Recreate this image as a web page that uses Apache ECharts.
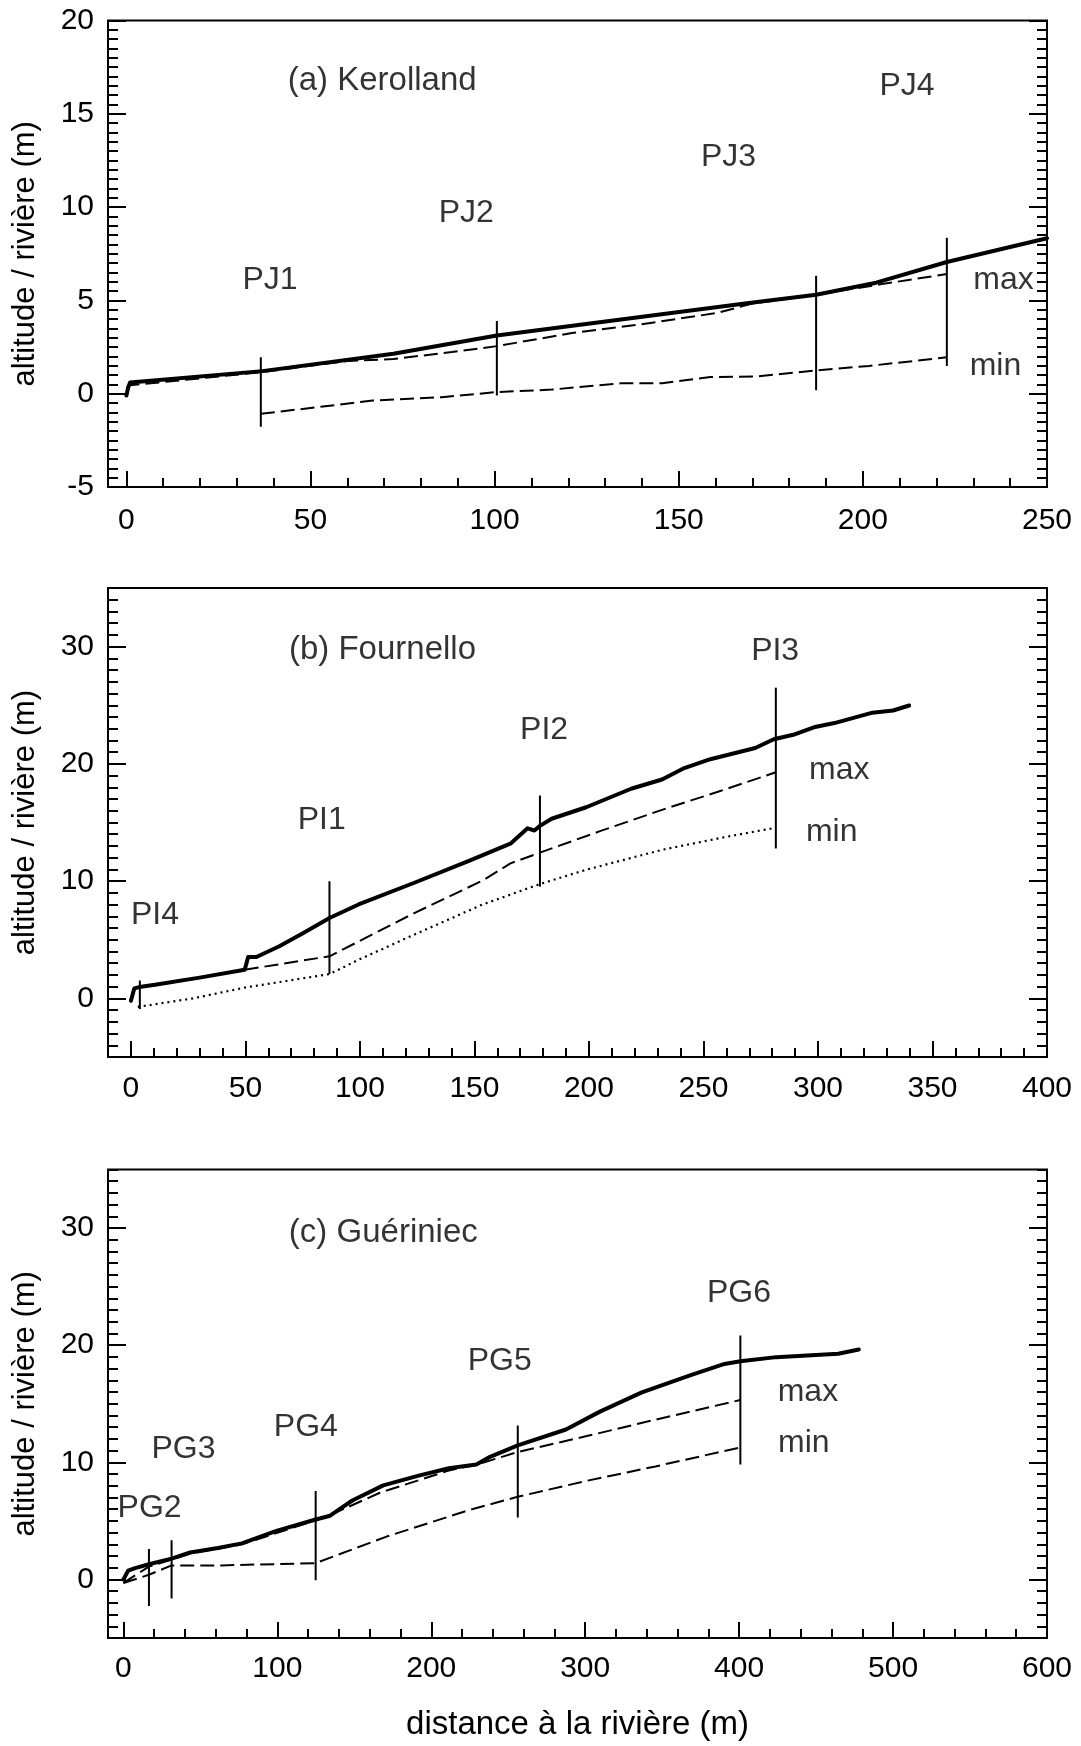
<!DOCTYPE html>
<html><head><meta charset="utf-8">
<script src="https://cdn.jsdelivr.net/npm/echarts@6/dist/echarts.min.js"></script>
<style>html,body{margin:0;padding:0;background:#fff;} #c{width:1081px;height:1746px;}</style>
</head><body><div id="c"></div>
<script>
// ---------- Panel (a) Kerolland ----------
const surfA_x = [0, 0.5, 1, 36.9, 72.5, 100.6, 168, 187.3, 203.6, 222.8, 250];
const surfA_y = [-0.1, 0.35, 0.6, 1.21, 2.14, 3.12, 4.83, 5.30, 5.95, 7.06, 8.33];
const maxA_x = [0, 1, 36.5, 60, 72.5, 88.4, 100.6, 121, 139.9, 160.5, 170, 187.3, 204.7, 222.8];
const maxA_y = [0.3, 0.45, 1.15, 1.75, 1.86, 2.23, 2.55, 3.25, 3.72, 4.33, 4.83, 5.30, 5.86, 6.41];
const minA_x = [36.5, 66.9, 85.6, 100.6, 115.5, 134.3, 145.5, 158.6, 171.7, 187.3, 201.7, 222.8];
const minA_y = [-1.08, -0.37, -0.19, 0.09, 0.22, 0.56, 0.56, 0.89, 0.93, 1.25, 1.49, 1.95];
const profA_x = [36.5, 100.6, 187.3, 222.8];
const profA_top = [1.95, 3.9, 6.32, 8.36];
const profA_bot = [-1.77, -0.1, 0.19, 1.49];
const labA_text = ['PJ1', 'PJ2', 'PJ3', 'PJ4', 'max', 'min'];
const labA_x = [39, 92.3, 163.5, 212, 238.2, 236];
const labA_y = [6.1, 9.7, 12.65, 16.5, 6.1, 1.5];
const titleA = '(a) Kerolland';
const titleA_pos = [43.8, 16.75];
const xTicksA = [0, 50, 100, 150, 200, 250];
const yTicksA = [-5, 0, 5, 10, 15, 20];

// ---------- Panel (b) Fournello ----------
const surfB_x = [0, 1.5, 4.5, 10.5, 30, 49.7, 51.2, 54.8, 64.8, 75.3, 86.7, 99.4, 123.5, 147.6, 165.7, 173.2, 176.2, 178.6, 183.7, 198.8, 218.4, 231.9, 241, 253, 272.6, 280.7, 289.2, 298.2, 307.2, 323.8, 332.8, 339.8];
const surfB_y = [-0.2, 0.85, 1.0, 1.16, 1.77, 2.44, 3.53, 3.53, 4.45, 5.57, 6.85, 8.01, 9.84, 11.73, 13.19, 14.5, 14.32, 14.71, 15.32, 16.3, 17.88, 18.67, 19.59, 20.4, 21.35, 22.1, 22.48, 23.12, 23.48, 24.37, 24.55, 24.98];
const maxB_x = [49.7, 86.7, 123.5, 153.6, 165.7, 178.6, 204.8, 231.9, 256, 281.6];
const maxB_y = [2.44, 3.59, 7.25, 10.05, 11.51, 12.43, 14.26, 16.08, 17.6, 19.28];
const minB_x = [3, 27.1, 50.3, 86.7, 99.4, 123.5, 153.6, 178.6, 198.8, 231.9, 259, 281.6];
const minB_y = [-0.73, 0, 0.94, 2.07, 3.29, 5.42, 8.01, 9.75, 10.97, 12.67, 13.74, 14.56];
const profB_x = [3.9, 86.7, 178.6, 281.6];
const profB_top = [1.52, 9.99, 17.3, 26.5];
const profB_bot = [-0.91, 2.07, 9.53, 12.79];
const labB_text = ['PI4', 'PI1', 'PI2', 'PI3', 'max', 'min'];
const labB_x = [10.5, 83.3, 180.4, 281.3, 309.3, 306];
const labB_y = [7.1, 15.2, 22.85, 29.64, 19.43, 14.2];
const titleB = '(b) Fournello';
const titleB_pos = [69, 29.7];
const xTicksB = [0, 50, 100, 150, 200, 250, 300, 350, 400];
const yTicksB = [0, 10, 20, 30];

// ---------- Panel (c) Guériniec ----------
const surfC_x = [0, 3.1, 7.6, 16.6, 31.3, 43.4, 61.4, 77, 99.4, 124.9, 134.3, 148.7, 168.8, 191.2, 211.4, 229.3, 238.2, 256.2, 287.5, 309.9, 336.8, 368.1, 390.5, 400.8, 424.1, 464.4, 477.8];
const surfC_y = [0, 0.75, 0.97, 1.3, 1.78, 2.3, 2.69, 3.08, 4.15, 5.12, 5.44, 6.74, 8.03, 8.84, 9.49, 9.82, 10.47, 11.44, 12.8, 14.35, 15.97, 17.43, 18.4, 18.63, 18.98, 19.27, 19.63];
const maxC_x = [0, 16.6, 31.3, 43.4, 77, 124.9, 134.3, 166.6, 211.4, 229.3, 256.2, 301, 345.7, 400.8];
const maxC_y = [-0.3, 1.1, 1.7, 2.2, 3.0, 5.05, 5.5, 7.4, 9.3, 9.8, 10.88, 12.24, 13.64, 15.32];
const minC_x = [0, 16.6, 31.3, 63.7, 124.9, 171, 224.8, 256.2, 301, 345.7, 400.8];
const minC_y = [-0.3, 0.4, 1.2, 1.2, 1.39, 3.66, 5.93, 7.06, 8.42, 9.65, 11.27];
const profC_x = [16.6, 31.3, 124.9, 256.2, 400.8];
const profC_top = [2.59, 3.34, 7.55, 13.15, 20.83];
const profC_bot = [-2.27, -1.62, -0.06, 5.28, 9.82];
const labC_text = ['PG2', 'PG3', 'PG4', 'PG5', 'PG6', 'max', 'min'];
const labC_x = [17, 39, 118.5, 244.5, 399.9, 444.7, 442];
const labC_y = [6.1, 11.15, 13.0, 18.6, 24.4, 16.0, 11.6];
const titleC = '(c) Guériniec';
const titleC_pos = [107.5, 29.6];
const xTicksC = [0, 100, 200, 300, 400, 500, 600];
const yTicksC = [0, 10, 20, 30];

const yTitle = 'altitude / rivière (m)';
const xTitle = 'distance à la rivière (m)';

// ---------- helpers ----------
function pairs(xs, ys) { return xs.map((x, i) => [x, ys[i]]); }
function steps(a, b, s) { const r = []; for (let v = a; v <= b + 1e-9; v += s) r.push(+v.toFixed(6)); return r; }

const FONT = 'Liberation Sans, Arial, sans-serif';
const panels = [
  { top: 20.5, height: 466.5, xmin: -5, xmax: 250, ymin: -5, ymax: 20, xT: xTicksA, yT: yTicksA, xm: 10, ym: 0.5, lm: 19,
    surf: pairs(surfA_x, surfA_y), max: pairs(maxA_x, maxA_y), min: pairs(minA_x, minA_y), minDot: false,
    px: profA_x, pt: profA_top, pb: profA_bot, lt: labA_text, lx: labA_x, ly: labA_y, title: titleA, tp: titleA_pos },
  { top: 588, height: 469, xmin: -10, xmax: 400, ymin: -5, ymax: 35, xT: xTicksB, yT: yTicksB, xm: 10, ym: 1, lm: 17,
    surf: pairs(surfB_x, surfB_y), max: pairs(maxB_x, maxB_y), min: pairs(minB_x, minB_y), minDot: true,
    px: profB_x, pt: profB_top, pb: profB_bot, lt: labB_text, lx: labB_x, ly: labB_y, title: titleB, tp: titleB_pos },
  { top: 1169.5, height: 468.5, xmin: -10, xmax: 600, ymin: -5, ymax: 35, xT: xTicksC, yT: yTicksC, xm: 20, ym: 1, lm: 16,
    surf: pairs(surfC_x, surfC_y), max: pairs(maxC_x, maxC_y), min: pairs(minC_x, minC_y), minDot: false,
    px: profC_x, pt: profC_top, pb: profC_bot, lt: labC_text, lx: labC_x, ly: labC_y, title: titleC, tp: titleC_pos }
];

const grid = [], xAxis = [], yAxis = [], series = [];
const tickStyle = { color: '#000', width: 2 };
panels.forEach((p, gi) => {
  grid.push({ left: 108, width: 939, top: p.top, height: p.height, show: true, borderColor: '#000', borderWidth: 2, backgroundColor: 'transparent' });
  const minorX = steps(Math.ceil(p.xmin / p.xm) * p.xm, p.xmax, p.xm);
  const minorY = steps(Math.ceil(p.ymin / p.ym) * p.ym, p.ymax, p.ym);
  const base = { type: 'value', gridIndex: gi, splitLine: { show: false }, axisLine: { show: false, onZero: false } };
  xAxis.push(Object.assign({}, base, {
    min: p.xmin, max: p.xmax, position: 'bottom',
    axisTick: { show: true, inside: true, length: 16, lineStyle: tickStyle, customValues: p.xT },
    axisLabel: { show: true, customValues: p.xT, color: '#000', fontSize: 30, fontFamily: FONT, margin: p.lm },
    name: gi === 2 ? xTitle : '', nameLocation: 'middle', nameGap: 70,
    nameTextStyle: { color: '#000', fontSize: 33, fontFamily: FONT }
  }));
  xAxis.push(Object.assign({}, base, {
    min: p.xmin, max: p.xmax, position: 'bottom',
    axisTick: { show: true, inside: true, length: 9, lineStyle: tickStyle, customValues: minorX },
    axisLabel: { show: false }
  }));
  ['left', 'right'].forEach(pos => {
    yAxis.push(Object.assign({}, base, {
      min: p.ymin, max: p.ymax, position: pos,
      axisTick: { show: true, inside: true, length: 18, lineStyle: tickStyle, customValues: p.yT },
      axisLabel: { show: pos === 'left', customValues: p.yT, color: '#000', fontSize: 30, fontFamily: FONT, margin: 14 },
      name: pos === 'left' ? yTitle : '', nameLocation: 'middle', nameRotate: 90, nameGap: 67,
      nameTextStyle: { color: '#000', fontSize: 31, fontFamily: FONT }
    }));
    yAxis.push(Object.assign({}, base, {
      min: p.ymin, max: p.ymax, position: pos,
      axisTick: { show: true, inside: true, length: 10, lineStyle: tickStyle, customValues: minorY },
      axisLabel: { show: false }
    }));
  });
  const xi = gi * 2, yi = gi * 4;
  const lineBase = { type: 'line', xAxisIndex: xi, yAxisIndex: yi, showSymbol: false, symbol: 'none', silent: true, animation: false };
  series.push(Object.assign({}, lineBase, { data: p.max, z: 3, lineStyle: { color: '#000', width: 2, type: [14, 6] } }));
  series.push(Object.assign({}, lineBase, { data: p.min, z: 3, lineStyle: p.minDot ? { color: '#000', width: 2.2, type: [2, 4] } : { color: '#000', width: 2, type: [14, 6] } }));
  p.px.forEach((x, i) => {
    series.push(Object.assign({}, lineBase, { data: [[x, p.pt[i]], [x, p.pb[i]]], z: 4, lineStyle: { color: '#000', width: 2 } }));
  });
  series.push(Object.assign({}, lineBase, { data: p.surf, z: 5, lineStyle: { color: '#000', width: 4, cap: 'round', join: 'round' } }));
  series.push({
    type: 'scatter', xAxisIndex: xi, yAxisIndex: yi, symbolSize: 1, itemStyle: { color: 'transparent' }, silent: true, animation: false,
    data: p.lt.map((t, i) => ({ name: t, value: [p.lx[i], p.ly[i]] })),
    label: { show: true, position: 'inside', formatter: '{b}', color: '#000', fontSize: 32, fontFamily: FONT, align: 'center', verticalAlign: 'middle' }
  });
  series.push({
    type: 'scatter', xAxisIndex: xi, yAxisIndex: yi, symbolSize: 1, itemStyle: { color: 'transparent' }, silent: true, animation: false,
    data: [{ name: p.title, value: p.tp }],
    label: { show: true, position: 'inside', formatter: '{b}', color: '#000', fontSize: 33, fontFamily: FONT, align: 'left', verticalAlign: 'middle' }
  });
});

const chart = echarts.init(document.getElementById('c'), null, { renderer: 'canvas' });
chart.setOption({ animation: false, backgroundColor: '#fff', grid, xAxis, yAxis, series });
</script></body></html>
